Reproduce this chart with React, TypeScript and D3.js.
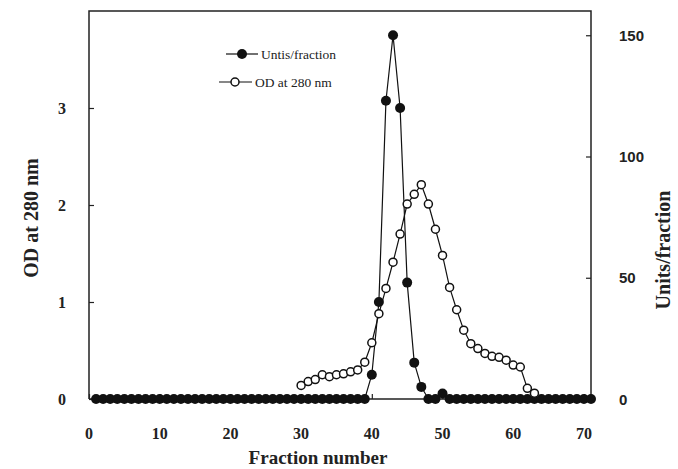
import React, { useEffect, useRef } from 'react';
import * as d3 from 'd3';

// fractions and readings
const unitFractions: number[] = d3.range(1, 72);
const unitValues: number[] = [
  0, 0, 0, 0, 0, 0, 0, 0, 0, 0,
  0, 0, 0, 0, 0, 0, 0, 0, 0, 0,
  0, 0, 0, 0, 0, 0, 0, 0, 0, 0,
  0, 0, 0, 0, 0, 0, 0, 0, 0, 10,
  40, 123, 150, 120, 48, 15, 5, 0, 0, 2.3,
  0, 0, 0, 0, 0, 0, 0, 0, 0, 0,
  0, 0, 0, 0, 0, 0, 0, 0, 0, 0,
  0,
];

const odFractions: number[] = d3.range(30, 64);
const odValues: number[] = [
  0.14, 0.18, 0.20, 0.25, 0.23, 0.25, 0.26, 0.28, 0.30, 0.38,
  0.58, 0.88, 1.14, 1.41, 1.70, 2.01, 2.11, 2.21, 2.01, 1.75,
  1.48, 1.15, 0.92, 0.71, 0.57, 0.52, 0.47, 0.44, 0.43, 0.40,
  0.35, 0.33, 0.11, 0.06,
];

const xTicks = [0, 10, 20, 30, 40, 50, 60, 70];
const odTicks = [0, 1, 2, 3];
const unitTicks = [0, 50, 100, 150];

export default function App() {
  const ref = useRef<SVGSVGElement>(null);

  useEffect(() => {
    const svg = d3.select(ref.current);
    svg.selectAll('*').remove();

    const left = 89, right = 591, top = 11, bottom = 399;
    const x = d3.scaleLinear().domain([0, 71]).range([left, right]);
    const yOD = d3.scaleLinear().domain([0, 4]).range([bottom, top]);
    const yU = d3.scaleLinear().domain([0, 160]).range([bottom, top]);

    const serif = '"Liberation Serif", "Times New Roman", serif';
    const sans = '"Liberation Sans", Arial, sans-serif';

    const g = svg.append('g');

    // frame: left, top, right and bottom spine
    g.append('path')
      .attr('d', `M${left},${bottom}V${top}H${right}V${bottom}H${left}`)
      .attr('fill', 'none')
      .attr('stroke', '#222')
      .attr('stroke-width', 1.5);

    // ticks point inward
    const xAxis = d3.axisTop(x).tickValues(xTicks).tickSize(5).tickFormat(() => '');
    g.append('g').attr('transform', `translate(0,${bottom})`).call(xAxis)
      .call(a => a.select('.domain').remove());
    const lAxis = d3.axisRight(yOD).tickValues(odTicks).tickSize(5).tickFormat(() => '');
    g.append('g').attr('transform', `translate(${left},0)`).call(lAxis)
      .call(a => a.select('.domain').remove());
    const rAxis = d3.axisLeft(yU).tickValues(unitTicks).tickSize(5).tickFormat(() => '');
    g.append('g').attr('transform', `translate(${right},0)`).call(rAxis)
      .call(a => a.select('.domain').remove());
    g.selectAll('.tick line').attr('stroke-width', 1.2).attr('stroke', '#222');

    // tick labels
    g.selectAll('.xl').data(xTicks).join('text')
      .attr('x', d => x(d)).attr('y', 439)
      .attr('text-anchor', 'middle')
      .style('font', `bold 16px ${serif}`)
      .style('fill', '#222')
      .text(d => d);
    g.selectAll('.ol').data(odTicks).join('text')
      .attr('x', left - 23).attr('y', d => yOD(d) + 5.5)
      .attr('text-anchor', 'end')
      .style('font', `bold 16px ${serif}`)
      .style('fill', '#222')
      .text(d => d);
    g.selectAll('.ul').data(unitTicks).join('text')
      .attr('x', right + 28).attr('y', d => yU(d) + 5.5)
      .attr('text-anchor', 'start')
      .style('font', `bold 15px ${sans}`)
      .style('fill', '#222')
      .text(d => d);

    // axis titles
    g.append('text')
      .attr('transform', `translate(38,218) rotate(-90)`)
      .attr('text-anchor', 'middle')
      .style('font', `bold 20px ${serif}`)
      .style('fill', '#222')
      .text('OD at 280 nm');
    g.append('text')
      .attr('transform', `translate(670,250) rotate(-90)`)
      .attr('text-anchor', 'middle')
      .style('font', `bold 20px ${serif}`)
      .style('fill', '#222')
      .text('Units/fraction');
    g.append('text')
      .attr('x', 318).attr('y', 464)
      .attr('text-anchor', 'middle')
      .style('font', `bold 19px ${serif}`)
      .style('fill', '#222')
      .text('Fraction number');

    // units/fraction series (right axis)
    const uLine = d3.line<number>().x((d, i) => x(unitFractions[i])).y(d => yU(d));
    g.append('path').attr('d', uLine(unitValues))
      .attr('fill', 'none').attr('stroke', '#111').attr('stroke-width', 1.2);
    g.selectAll('.um').data(unitValues).join('circle')
      .attr('cx', (d, i) => x(unitFractions[i])).attr('cy', d => yU(d))
      .attr('r', 5).attr('fill', '#111');

    // OD series (left axis)
    const oLine = d3.line<number>().x((d, i) => x(odFractions[i])).y(d => yOD(d));
    g.append('path').attr('d', oLine(odValues))
      .attr('fill', 'none').attr('stroke', '#111').attr('stroke-width', 1.2);
    g.selectAll('.om').data(odValues).join('circle')
      .attr('cx', (d, i) => x(odFractions[i])).attr('cy', d => yOD(d))
      .attr('r', 4).attr('fill', '#fff').attr('stroke', '#111').attr('stroke-width', 1.5);

    // legend
    const le = g.append('g');
    le.append('line').attr('x1', 226).attr('x2', 258).attr('y1', 54).attr('y2', 54)
      .attr('stroke', '#111').attr('stroke-width', 1.2);
    le.append('circle').attr('cx', 242).attr('cy', 54).attr('r', 5).attr('fill', '#111');
    le.append('text').attr('x', 261).attr('y', 58.5)
      .style('font', `13.5px ${serif}`).style('fill', '#222').text('Untis/fraction');
    le.append('line').attr('x1', 219).attr('x2', 252).attr('y1', 82).attr('y2', 82)
      .attr('stroke', '#111').attr('stroke-width', 1.2);
    le.append('circle').attr('cx', 235).attr('cy', 82).attr('r', 4)
      .attr('fill', '#fff').attr('stroke', '#111').attr('stroke-width', 1.5);
    le.append('text').attr('x', 255).attr('y', 86.5)
      .style('font', `13.5px ${serif}`).style('fill', '#222').text('OD at 280 nm');
  }, []);

  return (
    <svg ref={ref} width={678} height={469}
      style={{ position: 'absolute', left: 0, top: 0, background: '#fff' }} />
  );
}
